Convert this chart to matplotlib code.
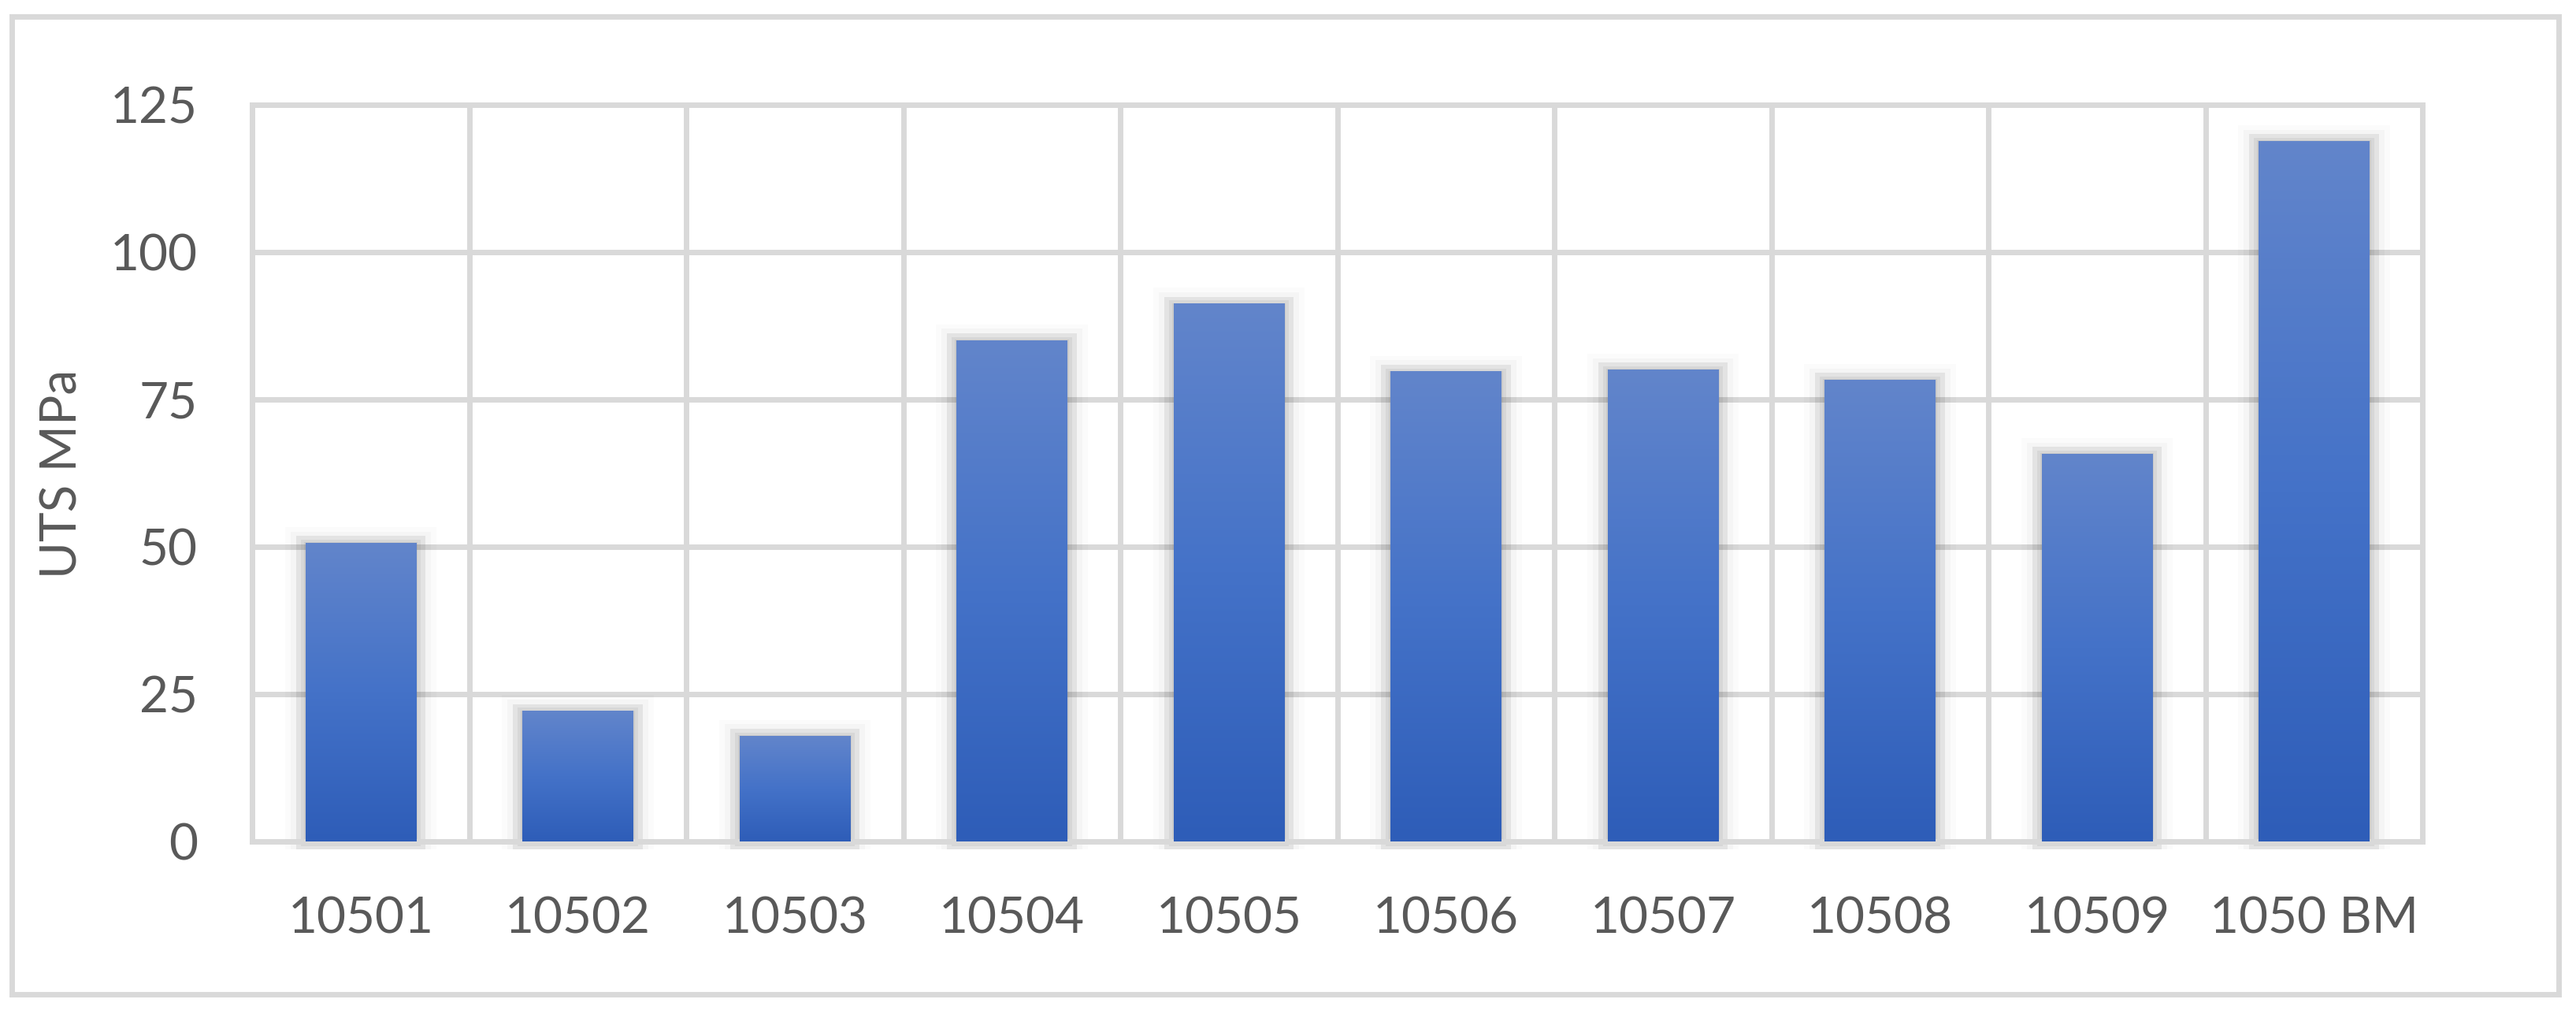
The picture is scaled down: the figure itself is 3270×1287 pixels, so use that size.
import numpy as np
import matplotlib
matplotlib.use("Agg")
import matplotlib.pyplot as plt
from matplotlib.patches import Rectangle
from matplotlib.colors import LinearSegmentedColormap

plt.rcParams['font.family'] = ['Lato', 'DejaVu Sans']

samples = ['10501', '10502', '10503', '10504', '10505', '10506', '10507', '10508', '10509', '1050 BM']
uts = [50.6, 22.1, 17.9, 85.0, 91.2, 79.7, 80.0, 78.3, 65.7, 118.8]

grid_col = '#D9D9D9'
text_col = '#595959'
bar_w = 0.51

fig = plt.figure(figsize=(32.7, 12.87), dpi=100)
ax = fig.add_axes([0.0979, 0.1698, 0.8425, 0.7265])

# outer chart border
fig.patches.append(Rectangle((0.0046, 0.0194), 0.9887, 0.9639, transform=fig.transFigure,
                             fill=False, edgecolor=grid_col, linewidth=5))

cmap = LinearSegmentedColormap.from_list('bar', ['#2E5DB8', '#4472C8', '#6285CB'])
grad = np.linspace(0, 1, 256).reshape(-1, 1)

# pixel sizes in data units (approx)
px_x = 10 / 2755
px_y = 125 / 935

x = np.arange(len(samples))
for xi, v in zip(x, uts):
    # soft shadow around each bar
    for ex, a in [(26, 0.015), (19, 0.025), (12, 0.07), (6, 0.05), (2, 0.06)]:
        dx = ex * px_x
        top = ex * 0.8 * px_y
        bot = min(ex, 10) * px_y
        ax.add_patch(Rectangle((xi - bar_w / 2 - dx, -bot), bar_w + 2 * dx, v + bot + top,
                               facecolor='black', alpha=a, linewidth=0, zorder=2, clip_on=False))
    ax.imshow(grad, extent=[xi - bar_w / 2, xi + bar_w / 2, 0, v], origin='lower',
              cmap=cmap, aspect='auto', zorder=3)

ax.set_xlim(-0.5, len(samples) - 0.5)
ax.set_ylim(0, 125)
ax.set_yticks([0, 25, 50, 75, 100, 125])
ax.set_xticks(x)
ax.set_xticklabels(samples)
ax.set_xticks(np.arange(-0.5, len(samples), 1), minor=True)

ax.set_axisbelow(True)
ax.grid(True, axis='y', which='major', color=grid_col, linewidth=5, zorder=0)
ax.grid(True, axis='x', which='minor', color=grid_col, linewidth=5, zorder=0)
for s in ax.spines.values():
    s.set_color(grid_col)
    s.set_linewidth(5)

ax.tick_params(axis='both', which='both', length=0, labelsize=46, labelcolor=text_col)
ax.tick_params(axis='y', pad=50)
ax.tick_params(axis='x', pad=50)
ax.set_ylabel('UTS MPa', fontsize=46, color=text_col, va='center')
ax.yaxis.set_label_coords(-0.0875, 0.5)

fig.savefig('out.png', dpi=100, facecolor='white')
